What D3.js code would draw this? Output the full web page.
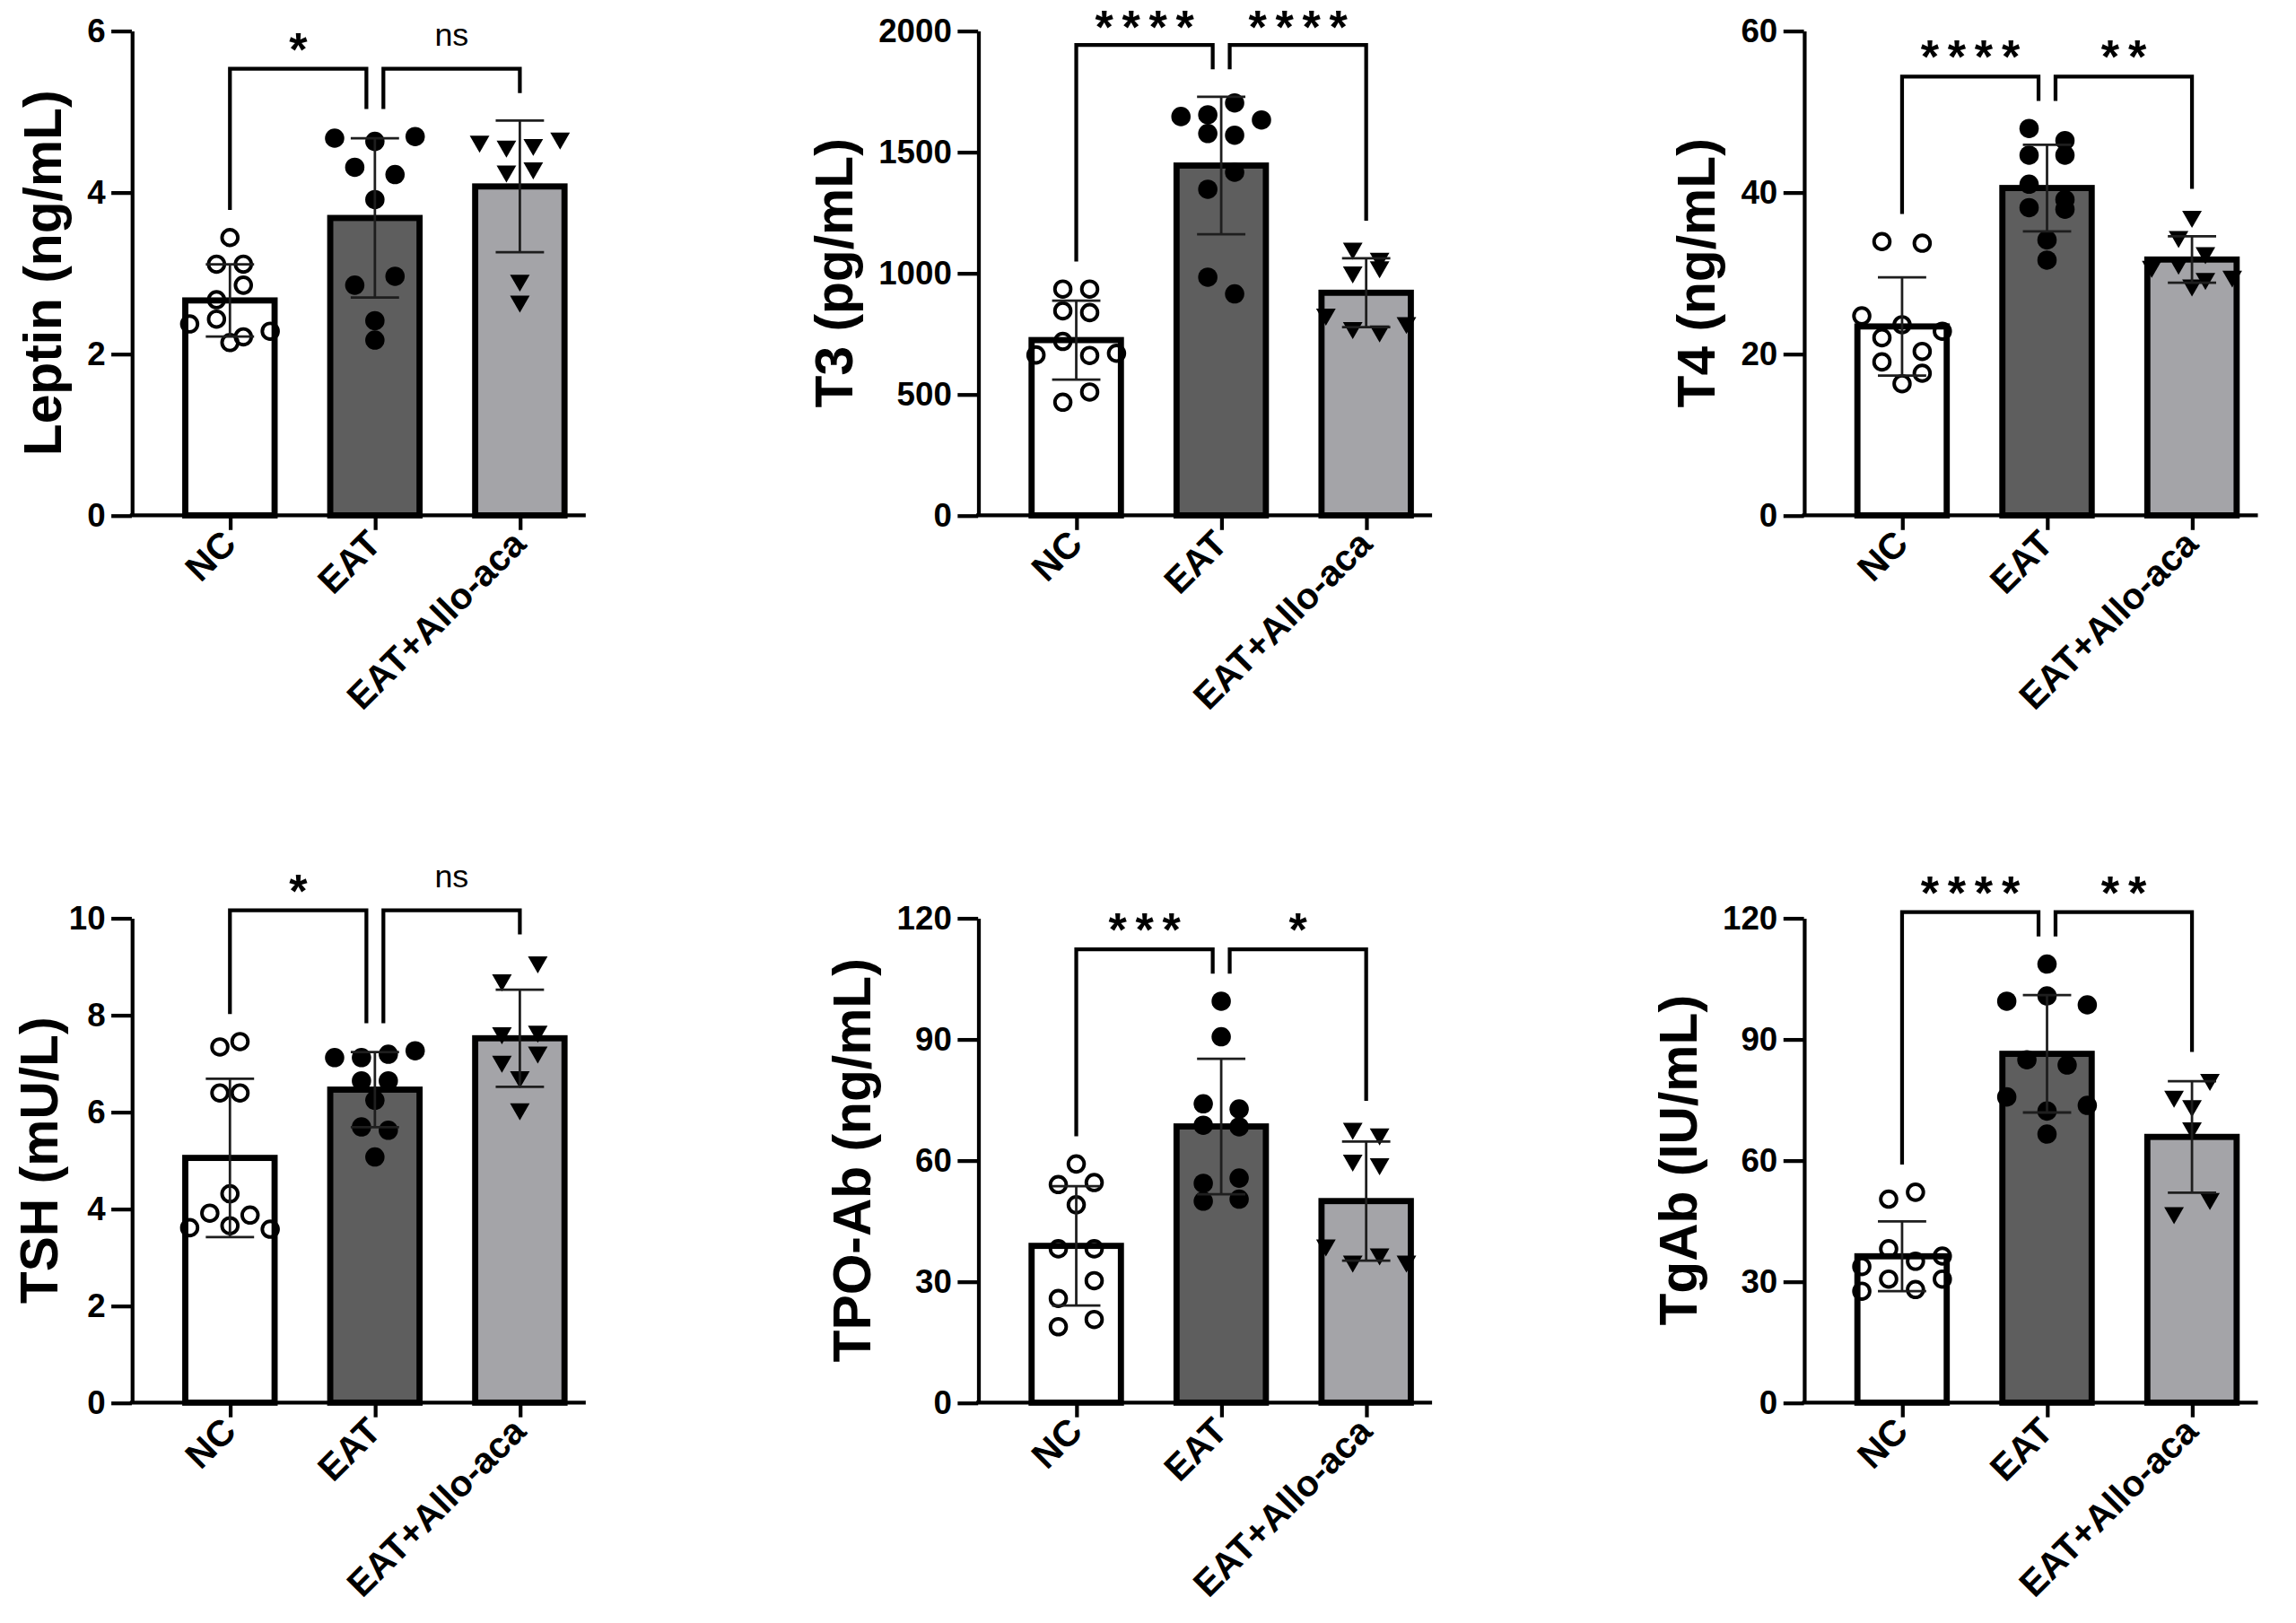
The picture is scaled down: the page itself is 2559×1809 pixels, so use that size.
<!DOCTYPE html>
<html>
<head>
<meta charset="utf-8">
<script src="https://cdn.jsdelivr.net/npm/d3@7"></script>
<style>
html, body { margin: 0; padding: 0; background: #fff; }
svg { display: block; }
text { font-family: "Liberation Sans", Arial, sans-serif; fill: #000; }
</style>
</head>
<body>
<svg id="chart" width="2559" height="1809" viewBox="0 0 1568 1108.5"></svg>
<script>
var groups = ["NC", "EAT", "EAT+Allo-aca"];

var titles = ["Leptin (ng/mL)", "T3 (pg/mL)", "T4 (ng/mL)", "TSH (mU/L)", "TPO-Ab (ng/mL)", "TgAb (IU/mL)"];

var yTicks = [
  [0, 2, 4, 6],
  [0, 500, 1000, 1500, 2000],
  [0, 20, 40, 60],
  [0, 2, 4, 6, 8, 10],
  [0, 30, 60, 90, 120],
  [0, 30, 60, 90, 120]
];

// one list per group: NC, EAT, EAT+Allo-aca
var leptin = [
  [3.44, 3.11, 3.11, 2.67, 2.85, 2.37, 2.43, 2.21, 2.28, 2.14],
  [4.67, 4.63, 4.69, 4.31, 4.22, 3.91, 2.85, 2.96, 2.41, 2.17],
  [4.63, 4.57, 4.59, 4.67, 4.26, 4.30, 2.91, 2.65]
];
var t3 = [
  [934, 934, 844, 837, 662, 718, 660, 669, 467, 509],
  [1646, 1653, 1702, 1632, 1576, 1569, 1346, 1416, 983, 914],
  [1102, 1060, 1004, 1025, 830, 774, 760, 795]
];
var t4 = [
  [33.9, 33.7, 24.7, 23.6, 22.8, 22.0, 20.3, 19.0, 17.6, 16.3],
  [47.9, 46.4, 44.6, 44.6, 41.0, 39.1, 38.1, 37.9, 34.1, 31.6],
  [37.0, 34.5, 32.5, 30.8, 31.2, 29.3, 29.6, 28.5]
];
var tsh = [
  [7.34, 7.45, 6.39, 6.39, 4.31, 3.61, 3.91, 3.65, 3.87, 3.58],
  [7.12, 7.12, 7.19, 7.26, 6.64, 6.64, 6.24, 5.69, 5.62, 5.07],
  [8.72, 9.09, 7.63, 7.66, 7.04, 7.23, 6.72, 6.06]
];
var tpoAb = [
  [59.1, 54.0, 54.5, 49.0, 38.1, 38.1, 25.8, 30.2, 18.8, 20.6],
  [99.4, 90.6, 74.0, 72.7, 68.7, 68.3, 54.3, 55.6, 49.9, 50.4],
  [67.9, 66.5, 60.0, 59.1, 39.0, 35.0, 36.8, 35.0]
];
var tgAb = [
  [50.4, 52.1, 33.7, 38.1, 35.0, 36.3, 27.6, 30.6, 28.0, 30.6],
  [108.6, 99.4, 100.7, 98.5, 84.9, 83.6, 75.7, 72.2, 73.6, 66.5],
  [75.8, 80.0, 73.5, 68.0, 47.0, 50.5]
];

// NC vs EAT, EAT vs EAT+Allo-aca
var sigLabels = [
  ["*", "ns"],
  ["****", "****"],
  ["****", "**"],
  ["*", "ns"],
  ["***", "*"],
  ["****", "**"]
];

var datasets = [leptin, t3, t4, tsh, tpoAb, tgAb];

var svg = d3.select("#chart");
var colX = [90, 668, 1232];
var rowY = [[352, 21], [958, 627]];
var fills = ["#ffffff", "#5e5e5e", "#a4a4a8"];
var barW = 61, axisLen = 310;
var binH = 12.5, spread = 55;
var starSize = 32;

// GraphPad-like scatter: points with close values share a row, spread across the bar
function layoutPoints(vals, y) {
  var idx = vals.map(function(v, i) { return i; })
    .sort(function(a, b) { return (vals[b] - vals[a]) || (a - b); });
  var bins = [], cur = null;
  idx.forEach(function(i) {
    if (cur && Math.abs(y(vals[i]) - y(vals[cur[0]])) <= binH) cur.push(i);
    else { cur = [i]; bins.push(cur); }
  });
  var maxRow = d3.max(bins, function(b) { return b.length; });
  var step = maxRow > 2 ? spread / (maxRow - 1) : 24.5;
  var out = [];
  bins.forEach(function(b) {
    b.sort(function(a, c) { return a - c; });
    b.forEach(function(i, k) { out.push({v: vals[i], dx: (k - (b.length - 1) / 2) * step}); });
  });
  return out;
}

datasets.forEach(function(data, p) {
  var range = rowY[Math.floor(p / 3)];
  var ymax = d3.max(yTicks[p]);
  var y = d3.scaleLinear().domain([0, ymax]).range(range);
  var x = d3.scalePoint().domain(groups).range([67, 265]);

  var g = svg.append("g").attr("transform", "translate(" + colX[p % 3] + ",0)");

  var stats = data.map(function(vals, i) {
    var m = d3.mean(vals), s = d3.deviation(vals);
    return {group: groups[i], vals: vals, mean: m, sd: s, top: Math.max(d3.max(vals), m + s), i: i};
  });

  // bars
  g.selectAll(".bar")
    .data(stats)
    .enter().append("rect")
      .attr("x", function(d) { return x(d.group) - barW / 2; })
      .attr("width", barW)
      .attr("y", function(d) { return y(d.mean); })
      .attr("height", function(d) { return y(0) - y(d.mean); })
      .attr("fill", function(d) { return fills[d.i]; })
      .attr("stroke", "#000")
      .attr("stroke-width", 4.2);

  // points
  stats.forEach(function(d) {
    var pts = layoutPoints(d.vals, y);
    var cx = x(d.group);
    if (d.i === 2) {
      g.selectAll(".tri" + d.i)
        .data(pts)
        .enter().append("path")
          .attr("d", d3.symbol().type(d3.symbolTriangle).size(78))
          .attr("transform", function(q) { return "translate(" + (cx + q.dx) + "," + y(q.v) + ") rotate(180)"; })
          .attr("fill", "#000");
    } else {
      g.selectAll(".pt" + d.i)
        .data(pts)
        .enter().append("circle")
          .attr("cx", function(q) { return cx + q.dx; })
          .attr("cy", function(q) { return y(q.v); })
          .attr("r", d.i === 0 ? 5.4 : 6.6)
          .attr("fill", d.i === 0 ? "none" : "#000")
          .attr("stroke", "#000")
          .attr("stroke-width", d.i === 0 ? 2.4 : 0);
    }
  });

  // error bars (mean +/- SD)
  var eb = g.selectAll(".err").data(stats).enter().append("g")
    .attr("stroke", "#1e1e1e").attr("stroke-width", 1.7);
  eb.append("line")
    .attr("x1", function(d) { return x(d.group); })
    .attr("x2", function(d) { return x(d.group); })
    .attr("y1", function(d) { return y(d.mean - d.sd); })
    .attr("y2", function(d) { return y(d.mean + d.sd); });
  [1, -1].forEach(function(sgn) {
    eb.append("line")
      .attr("x1", function(d) { return x(d.group) - 16.5; })
      .attr("x2", function(d) { return x(d.group) + 16.5; })
      .attr("y1", function(d) { return y(d.mean + sgn * d.sd); })
      .attr("y2", function(d) { return y(d.mean + sgn * d.sd); });
  });

  // y axis
  var ya = g.append("g")
    .call(d3.axisLeft(y).tickValues(yTicks[p]).tickFormat(function(d) { return String(d); })
      .tickSize(14).tickPadding(4).tickSizeOuter(0));
  ya.select(".domain").attr("stroke", "#000").attr("stroke-width", 2.6);
  ya.selectAll(".tick line").attr("stroke", "#000").attr("stroke-width", 2.6);
  ya.selectAll(".tick text")
    .attr("font-family", "Liberation Sans, Arial, sans-serif")
    .attr("font-size", 22.5).attr("font-weight", "bold").attr("fill", "#000");
  var labW = d3.max(ya.selectAll(".tick text").nodes(), function(n) { return n.getComputedTextLength(); });

  // x axis
  var xa = g.append("g")
    .attr("transform", "translate(0," + y(0) + ")")
    .call(d3.axisBottom(x).tickSize(10).tickSizeOuter(0));
  xa.select(".domain").remove();
  xa.append("line").attr("x1", -1.3).attr("x2", axisLen)
    .attr("stroke", "#000").attr("stroke-width", 2.6);
  xa.selectAll(".tick line").attr("stroke", "#000").attr("stroke-width", 2.6);
  xa.selectAll(".tick text")
    .attr("font-family", "Liberation Sans, Arial, sans-serif")
    .attr("font-size", 25).attr("font-weight", "bold").attr("fill", "#000")
    .attr("text-anchor", "end")
    .attr("y", null).attr("dy", null)
    .attr("transform", "translate(5,21) rotate(-45)");

  // y title, kept inside the page on the left column
  var titleX = Math.max(-(14 + 4 + labW + 18), 39 - colX[p % 3]);
  g.append("text")
    .attr("transform", "translate(" + titleX + "," + ((range[0] + range[1]) / 2) + ") rotate(-90)")
    .attr("text-anchor", "middle")
    .attr("font-size", 36).attr("font-weight", "bold")
    .text(titles[p]);

  // significance brackets
  var pad = 0.057 * ymax;
  var legEnd = stats.map(function(d) { return d.top + pad; });
  var by = y(d3.max(legEnd) + 0.05 * ymax);
  var gap = 5.8;
  var pairs = [
    {x1: x(groups[0]), x2: x(groups[1]) - gap, e1: legEnd[0], e2: legEnd[1], label: sigLabels[p][0]},
    {x1: x(groups[1]) + gap, x2: x(groups[2]), e1: legEnd[1], e2: legEnd[2], label: sigLabels[p][1]}
  ];
  g.selectAll(".bracket")
    .data(pairs)
    .enter().append("path")
      .attr("fill", "none").attr("stroke", "#000").attr("stroke-width", 2.6)
      .attr("d", function(d) {
        return "M" + d.x1 + "," + y(d.e1) + "V" + by + "H" + d.x2 + "V" + y(d.e2);
      });
  g.selectAll(".sig")
    .data(pairs)
    .enter().append("text")
      .attr("text-anchor", "middle")
      .attr("x", function(d) { return (d.x1 + d.x2) / 2 + (d.label === "ns" ? 0 : 3); })
      .attr("y", function(d) { return d.label === "ns" ? by - 15.7 : Math.max(by - 2.4, 0.92 * starSize); })
      .attr("font-size", function(d) { return d.label === "ns" ? 22 : starSize; })
      .attr("font-weight", function(d) { return d.label === "ns" ? "normal" : "bold"; })
      .attr("letter-spacing", function(d) { return d.label === "ns" ? 0 : 5.95; })
      .text(function(d) { return d.label; });
});
</script>
</body>
</html>
